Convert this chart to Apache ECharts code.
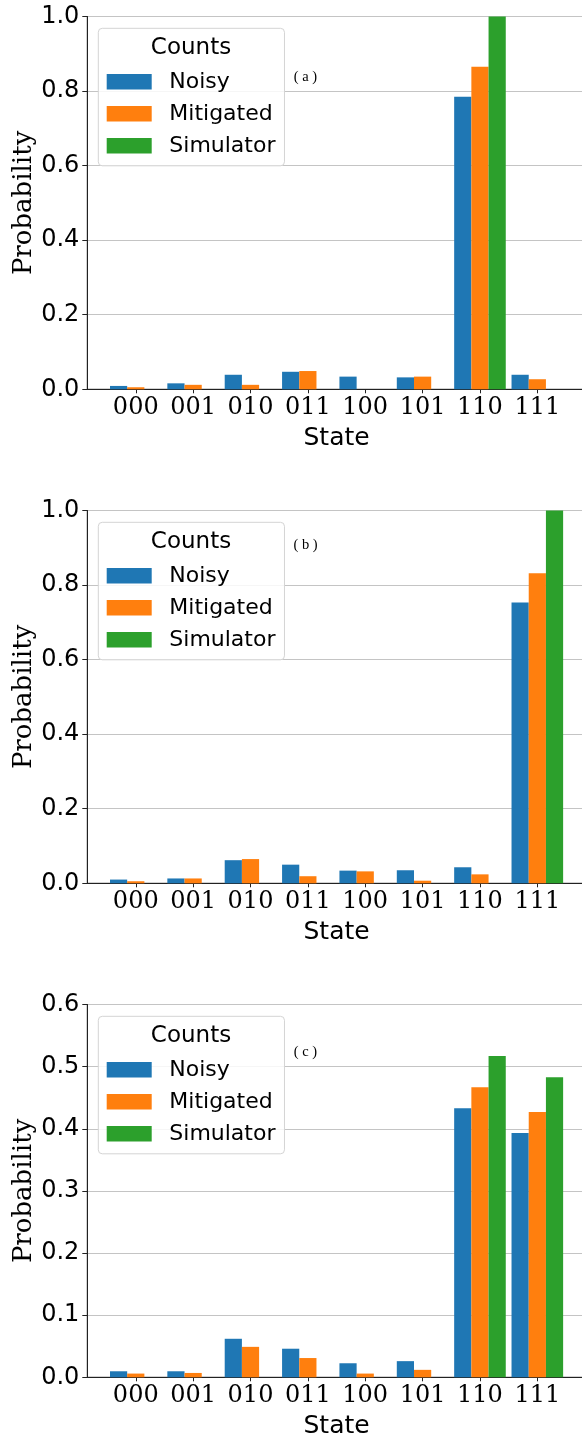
<!DOCTYPE html>
<html>
<head>
<meta charset="utf-8">
<script src="https://cdn.jsdelivr.net/npm/echarts@6/dist/echarts.min.js"></script>
<style>
html,body{margin:0;padding:0;background:#fff;}
#chart{width:582px;height:1437px;}
</style>
</head>
<body>
<div id="chart"></div>
<script>
// ---- data ----
const categories = ['000', '001', '010', '011', '100', '101', '110', '111'];
const seriesNames = ['Noisy', 'Mitigated', 'Simulator'];

const noisyA     = [0.009, 0.016, 0.039, 0.047, 0.034, 0.032, 0.785, 0.039];
const mitigatedA = [0.0055, 0.012, 0.012, 0.049, 0.0, 0.034, 0.865, 0.027];
const simulatorA = [0, 0, 0, 0, 0, 0, 1.0, 0];

const noisyB     = [0.010, 0.013, 0.062, 0.050, 0.034, 0.035, 0.043, 0.753];
const mitigatedB = [0.0055, 0.013, 0.065, 0.019, 0.032, 0.007, 0.024, 0.832];
const simulatorB = [0, 0, 0, 0, 0, 0, 0, 1.0];

const noisyC     = [0.0097, 0.0097, 0.062, 0.046, 0.0226, 0.026, 0.433, 0.393];
const mitigatedC = [0.006, 0.007, 0.049, 0.031, 0.006, 0.012, 0.467, 0.427];
const simulatorC = [0, 0, 0, 0, 0, 0, 0.517, 0.483];

const yMaxes = [1.0, 1.0, 0.6];
const yIntervals = [0.2, 0.2, 0.1];
const panelLabels = ['( a )', '( b )', '( c )'];

// ---- layout / style ----
const panels = [
  [noisyA, mitigatedA, simulatorA],
  [noisyB, mitigatedB, simulatorB],
  [noisyC, mitigatedC, simulatorC]
];
const colors = ['#1f77b4', '#ff7f0e', '#2ca02c'];
const panelTops = [16.5, 510.5, 1004.5];
const plotHeight = 372.8;
const gridLeft = 87.3;
const gridWidth = 498.5;
const labelOffsets = [60.5, 34.5, 47.2];
const xMin = -0.845, xMax = 7.845;
const tickIdx = categories.map((c, i) => i);

const grids = [], xAxes = [], yAxes = [], series = [], legends = [], graphics = [];

panels.forEach((vals, p) => {
  const top = panelTops[p];
  grids.push({
    left: gridLeft, width: gridWidth, top: top, height: plotHeight,
    outerBoundsMode: 'none', containLabel: false,
    show: true, borderColor: '#222', borderWidth: 1, backgroundColor: 'transparent'
  });
  xAxes.push({
    gridIndex: p, type: 'value', min: xMin, max: xMax,
    name: 'State', nameLocation: 'middle', nameGap: 37,
    nameTextStyle: {fontFamily: 'DejaVu Sans', fontSize: 25, color: '#000'},
    axisLine: {show: true, onZero: false, lineStyle: {color: '#222', width: 1}},
    axisTick: {show: true, customValues: tickIdx, length: 4, lineStyle: {color: '#222'}},
    axisLabel: {
      show: true, customValues: tickIdx, margin: 6,
      fontFamily: 'DejaVu Serif', fontSize: 24, color: '#000',
      formatter: v => categories[Math.round(v)]
    },
    splitLine: {show: false}
  });
  yAxes.push({
    gridIndex: p, type: 'value', min: 0, max: yMaxes[p], interval: yIntervals[p],
    name: 'Probability', nameLocation: 'middle', nameGap: 50, nameMoveOverlap: false,
    nameTextStyle: {fontFamily: 'DejaVu Serif', fontSize: 26, color: '#000'},
    axisLine: {show: true, onZero: false, lineStyle: {color: '#222', width: 1}},
    axisTick: {show: true, length: 5, lineStyle: {color: '#222'}},
    axisLabel: {
      margin: 8, fontFamily: 'DejaVu Sans', fontSize: 24, color: '#000',
      formatter: v => v.toFixed(1)
    },
    splitLine: {show: true, lineStyle: {color: '#c4c4c4', width: 1}}
  });
  vals.forEach((arr, s) => {
    series.push({
      type: 'bar', name: seriesNames[s], xAxisIndex: p, yAxisIndex: p,
      data: arr.map((v, i) => [i, v]),
      barWidth: 17.2, barGap: '0%',
      itemStyle: {color: colors[s]},
      emphasis: {disabled: true},
      animation: false
    });
  });
  legends.push({
    orient: 'vertical', left: 98.3, top: top + 11.8,
    data: seriesNames, icon: 'rect', selectedMode: false,
    itemWidth: 45, itemHeight: 15.6, itemGap: 10,
    padding: [42.5, 9, 9, 8.4],
    borderColor: '#d4d4d4', borderWidth: 1, borderRadius: 4,
    backgroundColor: 'rgba(255,255,255,0.85)',
    textStyle: {fontFamily: 'DejaVu Sans', fontSize: 22, color: '#000', lineHeight: 16, padding: [0, 0, 0, 12.6]}
  });
  graphics.push({
    type: 'text', x: 191, y: top + 32, z: 100,
    style: {text: 'Counts', fontFamily: 'DejaVu Sans', fontSize: 23, fill: '#000',
            textAlign: 'center', textVerticalAlign: 'middle', align: 'center', verticalAlign: 'middle'}
  });
  graphics.push({
    type: 'text', x: 305.5, y: top + labelOffsets[p], z: 100,
    style: {text: panelLabels[p], fontFamily: 'Liberation Serif', fontSize: 14.5, fill: '#000',
            textAlign: 'center', textVerticalAlign: 'middle', align: 'center', verticalAlign: 'middle'}
  });
});

const chart = echarts.init(document.getElementById('chart'), null, {renderer: 'canvas'});
chart.setOption({
  animation: false,
  backgroundColor: '#fff',
  grid: grids, xAxis: xAxes, yAxis: yAxes, series: series,
  legend: legends, graphic: graphics
});
</script>
</body>
</html>
